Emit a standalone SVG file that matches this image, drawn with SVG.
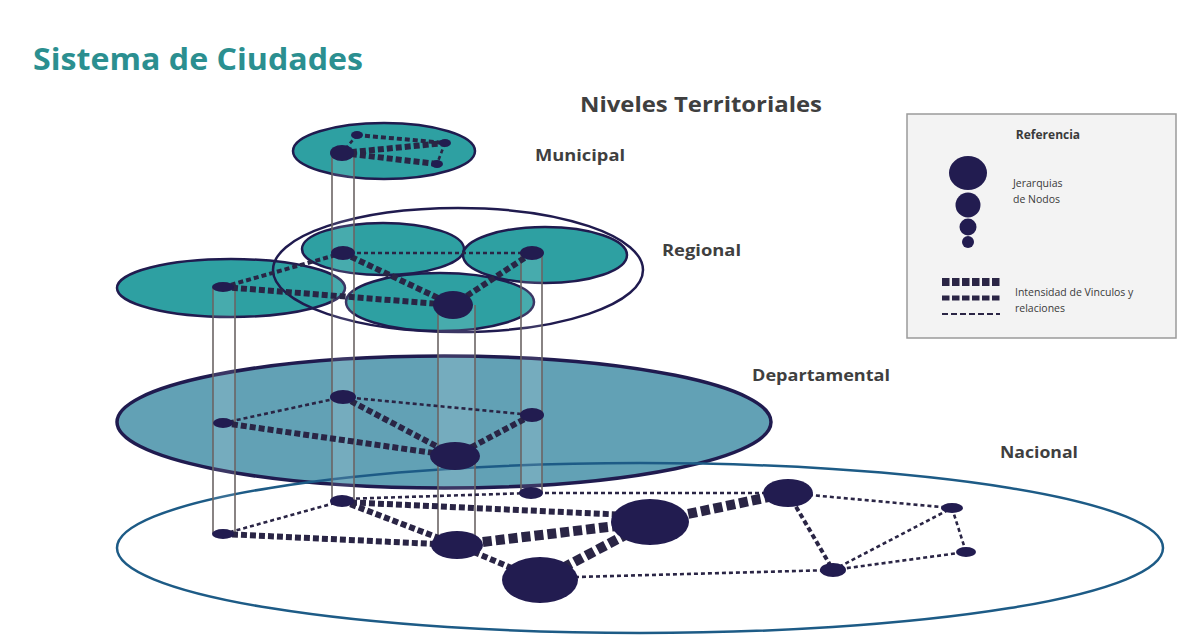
<svg xmlns="http://www.w3.org/2000/svg" width="1179" height="636" viewBox="0 0 1179 636">
  <style>
    .title { font-family: "Open Sans", "Noto Sans", sans-serif; font-weight: bold; fill: #2b8f90; }
    .lvl { font-family: "Open Sans", "Noto Sans", sans-serif; font-weight: bold; fill: #3f3f3f; }
    .ref { font-family: "Open Sans", "Noto Sans", sans-serif; fill: #3a3a3a; }
    .teal { fill: #2ea0a2; stroke: #201b4f; stroke-width: 2.5; }
    .ring { fill: none; stroke: #201b4f; stroke-width: 2.5; }
    .dept { fill: #62a1b5; stroke: #201b4f; stroke-width: 3.5; }
    .nat { fill: none; stroke: #1d5b86; stroke-width: 2.5; }
    .node { fill: #221c50; }
    .post { stroke: #6b6464; stroke-width: 1.6; }
    .tube { fill: #ffffff; opacity: 0.12; }
    .link { fill: none; stroke: #2a2545; }
    .l1 { stroke-width: 2.6; stroke-dasharray: 4 3; }
    .l2 { stroke-width: 4; stroke-dasharray: 5 3; }
    .l3 { stroke-width: 6; stroke-dasharray: 6 3; }
    .l4 { stroke-width: 10; stroke-dasharray: 9 4; }
  </style>

  <rect x="0" y="0" width="1179" height="636" fill="#ffffff"/>

  <text class="title" x="33" y="70" font-size="30" textLength="330" lengthAdjust="spacingAndGlyphs">Sistema de Ciudades</text>
  <text class="lvl" x="580" y="112" font-size="22" textLength="242" lengthAdjust="spacingAndGlyphs">Niveles Territoriales</text>

  <!-- territorial planes -->
  <g id="plane-departamental">
    <ellipse class="dept" cx="444" cy="422" rx="327" ry="66"/>
  </g>
  <g id="plane-nacional">
    <ellipse class="nat" cx="640" cy="548" rx="523" ry="85"/>
  </g>
  <g id="plane-regional">
    <ellipse class="teal" cx="231" cy="288" rx="114" ry="29"/>
    <ellipse class="teal" cx="383" cy="249" rx="81" ry="26"/>
    <ellipse class="teal" cx="545" cy="255" rx="82" ry="28"/>
    <ellipse class="teal" cx="440" cy="302" rx="94" ry="29"/>
    <ellipse class="ring" cx="458" cy="270" rx="185" ry="62"/>
  </g>
  <g id="plane-municipal">
    <ellipse class="teal" cx="384" cy="151" rx="91" ry="28"/>
  </g>

  <!-- level labels -->
  <text class="lvl" x="535" y="161" font-size="16" textLength="90" lengthAdjust="spacingAndGlyphs">Municipal</text>
  <text class="lvl" x="662" y="256" font-size="16" textLength="79" lengthAdjust="spacingAndGlyphs">Regional</text>
  <text class="lvl" x="752" y="381" font-size="16" textLength="138" lengthAdjust="spacingAndGlyphs">Departamental</text>
  <text class="lvl" x="1000" y="458" font-size="16" textLength="78" lengthAdjust="spacingAndGlyphs">Nacional</text>

  <g id="connectors">
    <!-- vertical tubes joining the same city across levels -->
    <rect class="tube" x="213" y="287" width="22" height="247"/>
    <line class="post" x1="213" y1="287" x2="213" y2="534"/>
    <line class="post" x1="235" y1="287" x2="235" y2="534"/>
    <rect class="tube" x="332" y="153" width="22" height="348"/>
    <line class="post" x1="332" y1="153" x2="332" y2="501"/>
    <line class="post" x1="354" y1="153" x2="354" y2="501"/>
    <rect class="tube" x="438" y="305" width="37" height="239"/>
    <line class="post" x1="438" y1="305" x2="438" y2="544"/>
    <line class="post" x1="475" y1="305" x2="475" y2="544"/>
    <rect class="tube" x="521" y="253" width="21" height="240"/>
    <line class="post" x1="521" y1="253" x2="521" y2="493"/>
    <line class="post" x1="542" y1="253" x2="542" y2="493"/>

    <!-- municipal links -->
    <line class="link l2" x1="357" y1="135" x2="445" y2="143"/>
    <line class="link l3" x1="342" y1="153" x2="445" y2="143"/>
    <line class="link l3" x1="342" y1="153" x2="437" y2="164"/>
    <line class="link l1" x1="357" y1="135" x2="342" y2="153"/>
    <line class="link l1" x1="445" y1="143" x2="437" y2="164"/>

    <!-- regional links -->
    <line class="link l1" x1="343" y1="253" x2="532" y2="253"/>
    <line class="link l3" x1="343" y1="253" x2="453" y2="305"/>
    <line class="link l3" x1="532" y1="253" x2="453" y2="305"/>
    <line class="link l3" x1="223" y1="287" x2="453" y2="305"/>
    <line class="link l2" x1="223" y1="287" x2="343" y2="253"/>

    <!-- departmental links -->
    <line class="link l1" x1="223" y1="423" x2="343" y2="397"/>
    <line class="link l3" x1="223" y1="423" x2="455" y2="456"/>
    <line class="link l3" x1="343" y1="397" x2="455" y2="456"/>
    <line class="link l1" x1="343" y1="397" x2="532" y2="415"/>
    <line class="link l3" x1="532" y1="415" x2="455" y2="456"/>

    <!-- national links -->
    <line class="link l1" x1="223" y1="534" x2="342" y2="501"/>
    <line class="link l3" x1="223" y1="534" x2="457" y2="545"/>
    <line class="link l1" x1="342" y1="499" x2="531" y2="493"/>
    <line class="link l3" x1="342" y1="502" x2="650" y2="516"/>
    <line class="link l3" x1="342" y1="501" x2="457" y2="545"/>
    <line class="link l1" x1="531" y1="493" x2="788" y2="493"/>
    <line class="link l4" x1="457" y1="545" x2="650" y2="522"/>
    <line class="link l3" x1="457" y1="545" x2="540" y2="580"/>
    <line class="link l4" x1="540" y1="580" x2="650" y2="522"/>
    <line class="link l4" x1="650" y1="522" x2="788" y2="493"/>
    <line class="link l1" x1="540" y1="578" x2="833" y2="570"/>
    <line class="link l2" x1="788" y1="493" x2="833" y2="570"/>
    <line class="link l1" x1="788" y1="493" x2="952" y2="508"/>
    <line class="link l1" x1="833" y1="570" x2="952" y2="508"/>
    <line class="link l1" x1="833" y1="570" x2="966" y2="552"/>
    <line class="link l1" x1="952" y1="508" x2="966" y2="552"/>
  </g>

  <!-- municipal nodes -->
  <g id="mun-a"><ellipse class="node" cx="342" cy="153" rx="12" ry="8"/></g>
  <g id="mun-b"><ellipse class="node" cx="357" cy="135" rx="6" ry="4"/></g>
  <g id="mun-c"><ellipse class="node" cx="445" cy="143" rx="6" ry="4"/></g>
  <g id="mun-d"><ellipse class="node" cx="437" cy="164" rx="6" ry="4"/></g>

  <!-- regional nodes -->
  <g id="reg-a"><ellipse class="node" cx="343" cy="253" rx="12" ry="7"/></g>
  <g id="reg-b"><ellipse class="node" cx="532" cy="253" rx="12" ry="7"/></g>
  <g id="reg-c"><ellipse class="node" cx="453" cy="305" rx="20" ry="14"/></g>
  <g id="reg-d"><ellipse class="node" cx="223" cy="287" rx="11" ry="5"/></g>

  <!-- departmental nodes -->
  <g id="dep-a"><ellipse class="node" cx="223" cy="423" rx="10" ry="5"/></g>
  <g id="dep-b"><ellipse class="node" cx="343" cy="397" rx="13" ry="7"/></g>
  <g id="dep-c"><ellipse class="node" cx="455" cy="456" rx="25" ry="14"/></g>
  <g id="dep-d"><ellipse class="node" cx="532" cy="415" rx="12" ry="7"/></g>

  <!-- national nodes -->
  <g id="nac-1"><ellipse class="node" cx="223" cy="534" rx="11" ry="5"/></g>
  <g id="nac-2"><ellipse class="node" cx="342" cy="501" rx="12" ry="6"/></g>
  <g id="nac-3"><ellipse class="node" cx="531" cy="493" rx="12" ry="6"/></g>
  <g id="nac-4"><ellipse class="node" cx="457" cy="545" rx="26" ry="14"/></g>
  <g id="nac-5"><ellipse class="node" cx="540" cy="580" rx="38" ry="23"/></g>
  <g id="nac-6"><ellipse class="node" cx="650" cy="522" rx="39" ry="23"/></g>
  <g id="nac-7"><ellipse class="node" cx="788" cy="493" rx="25" ry="14"/></g>
  <g id="nac-8"><ellipse class="node" cx="952" cy="508" rx="11" ry="5"/></g>
  <g id="nac-9"><ellipse class="node" cx="966" cy="552" rx="10" ry="5"/></g>
  <g id="nac-10"><ellipse class="node" cx="833" cy="570" rx="13" ry="7"/></g>

  <!-- legend -->
  <g id="legend">
    <rect x="907" y="114" width="269" height="224" fill="#f3f3f3" stroke="#9a9a9a" stroke-width="1.5"/>
    <text class="ref" x="1048" y="139" font-size="12" font-weight="bold" text-anchor="middle" fill="#2a2a2a">Referencia</text>
    <ellipse class="node" cx="968" cy="173" rx="19" ry="17"/>
    <circle class="node" cx="968" cy="205" r="12.5"/>
    <circle class="node" cx="968" cy="227" r="8.5"/>
    <circle class="node" cx="968" cy="242" r="6"/>
    <text class="ref" x="1013" y="187" font-size="10.5">Jerarquias</text>
    <text class="ref" x="1013" y="203" font-size="10.5">de Nodos</text>
    <line class="link" x1="942" y1="282" x2="1000" y2="282" stroke="#221c50" stroke-width="8" stroke-dasharray="7.5 2.5"/>
    <line class="link" x1="942" y1="298" x2="1000" y2="298" stroke="#221c50" stroke-width="5" stroke-dasharray="7.5 2.5"/>
    <line class="link" x1="942" y1="314" x2="1000" y2="314" stroke="#221c50" stroke-width="2" stroke-dasharray="6 3"/>
    <text class="ref" x="1015" y="296" font-size="10.5">Intensidad de Vinculos y</text>
    <text class="ref" x="1015" y="312" font-size="10.5">relaciones</text>
  </g>
</svg>
